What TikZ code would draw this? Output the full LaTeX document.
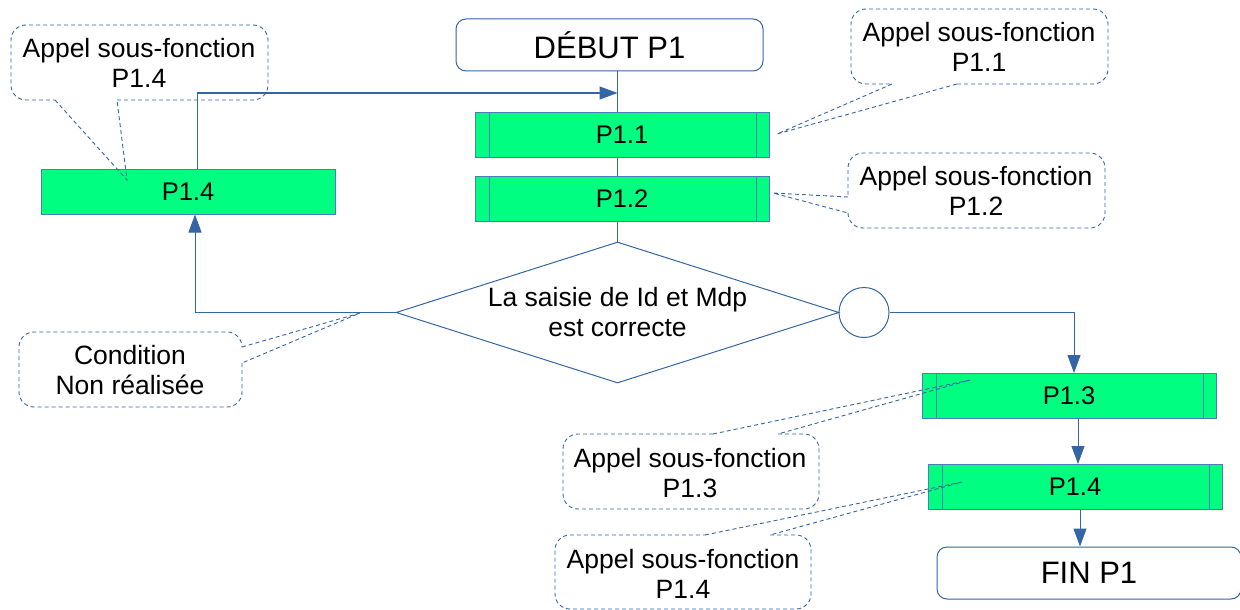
\documentclass[tikz,border=0pt]{standalone}
\usepackage{fontspec}
\setmainfont{Liberation Sans}
\usetikzlibrary{arrows.meta,shapes.geometric}
\definecolor{lb}{HTML}{3465A4}
\definecolor{bx}{HTML}{4A7EBB}
\definecolor{gr}{HTML}{00FF80}
\begin{document}
\begin{tikzpicture}[x=1pt,y=-1pt,
  conn/.style={draw=lb,line width=1pt},
  arr/.style={conn,-{Triangle[length=18pt,width=13pt]}},
  term/.style={draw=lb,line width=1pt,rounded corners=10pt,minimum width=307,minimum height=52,inner sep=0,font=\fontsize{31}{36}\selectfont},
  sub/.style={draw=bx,fill=gr,line width=1pt,minimum width=294,minimum height=45,inner sep=0,font=\fontsize{25.5}{30}\selectfont},
  subb/.style={sub,path picture={\draw[bx,line width=1pt]
      ([xshift=14pt]path picture bounding box.north west) -- ([xshift=14pt]path picture bounding box.south west)
      ([xshift=-13pt]path picture bounding box.north east) -- ([xshift=-13pt]path picture bounding box.south east);}},
  dia/.style={shape=diamond,draw=lb,line width=1pt,inner sep=0,shape aspect=3.14,minimum width=443,minimum height=141,align=center,font=\fontsize{26.5}{30}\selectfont},
  ctext/.style={align=center,inner sep=0,font=\fontsize{26.5}{30}\selectfont},
  co/.style={draw=lb,line width=0.9pt,dash pattern=on 4pt off 3pt},
  cor/.style={co,rounded corners=15pt}]
\useasboundingbox (0,0) rectangle (1240,610);
\coordinate (spine) at (617.5,0);
\coordinate (loop) at (197.5,93);

% main flow
\node[term] (debut) at (609.5,45) {DÉBUT P1};
\node[subb] (p11) at (622,135) {P1.1};
\node[subb] (p12) at (622,199) {P1.2};
\node[sub] (p14l) at (188,191.5) {P1.4};
\node[dia] (cond) at (617.5,312.5) {La saisie de Id et Mdp\\est correcte};
\node[circle,draw=lb,line width=1pt,minimum size=50,inner sep=0] (circ) at (864,312.5) {};
\node[subb] (p13) at (1069,396) {P1.3};
\node[subb] (p14) at (1075,487) {P1.4};
\node[term,minimum width=304] (fin) at (1089,573) {FIN P1};

% connectors
\draw[conn] (debut.south -| spine) -- (p11.north -| spine);
\draw[conn] (p11.south -| spine) -- (p12.north -| spine);
\draw[conn] (p12.south -| spine) -- (cond.north);
\draw[arr] (p14l.north -| loop) -- (loop) -- (loop -| spine);
\draw[arr] (cond.west) -| ([xshift=7pt]p14l.south);
\draw[arr] (circ.east) -| ([xshift=5pt]p13.north);
\draw[arr] ([xshift=9pt]p13.south) -- ([xshift=3pt]p14.north);
\draw[arr] ([xshift=5pt]p14.south) -- ([xshift=-9pt]fin.north);

% callout 1 (P1.4 left)
\node[ctext] (c1) at (139,63) {Appel sous-fonction\\P1.4};
\draw[cor] (117,100) -- (268,100) -- (268,25) -- (11,25) -- (11,100) -- (55,100);
\draw[co] (55,100) -- (127,180) -- (117,100);

% callout 2 (P1.1)
\node[ctext] (c2) at (979,47) {Appel sous-fonction\\P1.1};
\draw[cor] (957,84) -- (1108,84) -- (1108,9) -- (851,9) -- (851,84) -- (892,84);
\draw[co] (892,84) -- (777,134) -- (957,84);

% callout 3 (P1.2)
\node[ctext] (c3) at (976,191) {Appel sous-fonction\\P1.2};
\draw[cor] (848,213) -- (848,228) -- (1105,228) -- (1105,153) -- (848,153) -- (848,197);
\draw[co] (848,197) -- (773,193) -- (848,213);

% callout 4 (Condition)
\node[ctext] (c4) at (130,370.5) {Condition\\Non réalisée};
\draw[cor] (242,363) -- (242,407) -- (19,407) -- (19,332) -- (242,332) -- (242,347);
\draw[co] (242,347) -- (360,313) -- (242,363);

% callout 5 (P1.3)
\node[ctext] (c5) at (690,473) {Appel sous-fonction\\P1.3};
\draw[cor] (778,434) -- (819,434) -- (819,509) -- (563,509) -- (563,434) -- (713,434);
\draw[co] (713,434) -- (970,380) -- (778,434);

% callout 6 (P1.4 right)
\node[ctext] (c6) at (683,574) {Appel sous-fonction\\P1.4};
\draw[cor] (770,535) -- (811,535) -- (811,609) -- (555,609) -- (555,535) -- (705,535);
\draw[co] (705,535) -- (962,482) -- (770,535);
\end{tikzpicture}
\end{document}
